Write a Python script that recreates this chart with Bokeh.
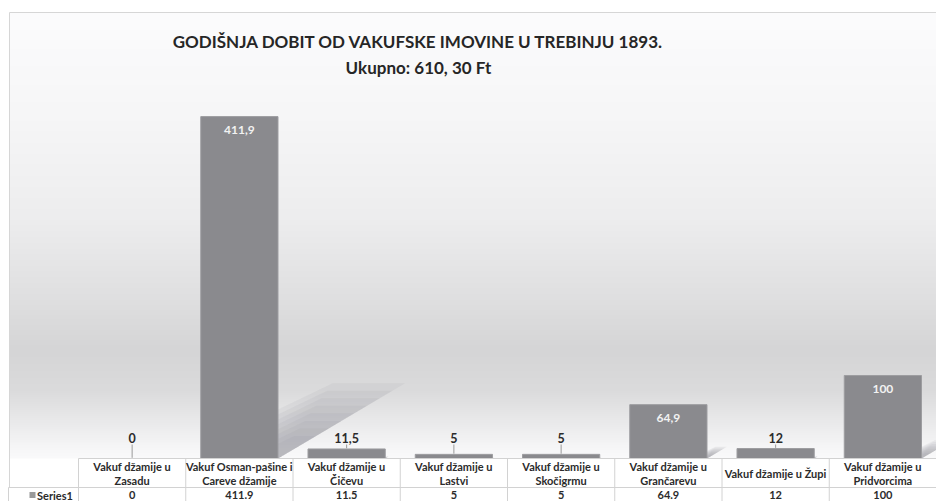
import numpy as np
from bokeh.plotting import figure
from bokeh.models import Range1d
from bokeh.core.properties import value
from bokeh.embed import file_html
from bokeh.resources import INLINE

# ---------------- data ----------------
title_text = "GODIŠNJA DOBIT OD VAKUFSKE IMOVINE U TREBINJU 1893."
subtitle_text = "Ukupno: 610, 30 Ft"
series_name = "Series1"
categories = [
    "Vakuf džamije u\nZasadu",
    "Vakuf Osman-pašine i\nCareve džamije",
    "Vakuf džamije u\nČičevu",
    "Vakuf džamije u\nLastvi",
    "Vakuf džamije u\nSkočigrmu",
    "Vakuf džamije u\nGrančarevu",
    "Vakuf džamije u Župi",
    "Vakuf džamije u\nPridvorcima",
]
values = [0, 411.9, 11.5, 5, 5, 64.9, 12, 100]

# ---------------- layout helpers (reference pixel -> data units) ----------------
PX_PER_UNIT = 0.830
BASE = 458.0
COL0 = 78.0
COLW = 107.25
W_REF, H_REF = 936.0, 501.0


def X(px):
    return (px - COL0) / COLW - 0.5


def Y(py):
    return (BASE - py) / PX_PER_UNIT


FONT = value("Lato")
TXT = "#2b2b2b"
GRID = "#d2d2d2"

p = figure(width=936, height=501,
           x_range=Range1d(X(0), X(W_REF)), y_range=Range1d(Y(H_REF), Y(0)),
           output_backend="svg", toolbar_location=None,
           x_axis_location=None, y_axis_location=None,
           min_border=0, outline_line_color=None,
           background_fill_color="white", border_fill_color="white")
p.grid.visible = False

# ---------------- background gradient of the chart area ----------------
rows = 460
ref_y = np.linspace(BASE, 12, rows)  # bottom row first
stops_y = [12, 120, 220, 300, 350, 390, 420, 445, 458]
stops_v = [252, 246, 237, 223, 213, 219, 233, 245, 250]
g = np.interp(ref_y, stops_y, stops_v).astype(np.uint8)
img = np.zeros((rows, 2), dtype=np.uint32)
view = img.view(dtype=np.uint8).reshape((rows, 2, 4))
view[:, :, 0] = g[:, None]
view[:, :, 1] = g[:, None]
view[:, :, 2] = (np.clip(g.astype(int) + 1, 0, 255)).astype(np.uint8)[:, None]
view[:, :, 3] = 255
p.image_rgba(image=[img], x=X(9), y=Y(BASE), dw=X(W_REF) - X(9), dh=Y(12) - Y(BASE))

# chart border
p.segment(x0=[X(9), X(9)], y0=[Y(12), Y(12)], x1=[X(W_REF), X(9)], y1=[Y(12), Y(487)],
          line_color="#d6d6d6", line_width=1)

# ---------------- shadows (layered to fade towards the upper right) ----------------
idx = list(range(len(values)))
bw = 0.72
for s in np.linspace(1.0, 0.3, 8):
    xs, ys = [], []
    for i, v in zip(idx, values):
        if v <= 0:
            continue
        h = 0.22 * v * s
        hpx = h * PX_PER_UNIT
        xr = i + bw / 2
        tl = 0.727 * hpx / COLW
        tr = 1.69 * hpx / COLW
        xs.append([xr, xr, xr + tl, xr + tr])
        ys.append([0, 0.65 * h, h, h])
    p.patches(xs=xs, ys=ys, fill_color="#969698", fill_alpha=0.11, line_color=None)

# ---------------- bars ----------------
p.vbar(x=idx, top=values, bottom=0, width=bw,
       fill_color="#8a8a8e", line_color="#9d9da0", line_width=1)

# ---------------- data labels ----------------
labels = [f"{v:g}".replace(".", ",") for v in values]
inside = [v >= 50 for v in values]
in_x = [i for i, f in zip(idx, inside) if f]
in_y = [v - 16.5 for v, f in zip(values, inside) if f]
in_t = [t for t, f in zip(labels, inside) if f]
p.text(x=in_x, y=in_y, text=in_t, text_color="#f2f2f2", text_font=FONT,
       text_font_style="bold", text_font_size="12px",
       text_align="center", text_baseline="middle")

out_x = [i for i, f in zip(idx, inside) if not f]
out_v = [v for v, f in zip(values, inside) if not f]
out_t = [t for t, f in zip(labels, inside) if not f]
lab_y = Y(437)
p.text(x=out_x, y=[lab_y] * len(out_x), text=out_t, text_color=TXT, text_font=FONT,
       text_font_style="bold", text_font_size="12.5px",
       text_align="center", text_baseline="middle")
p.segment(x0=out_x, y0=[Y(444)] * len(out_x), x1=out_x, y1=[v + 0.8 for v in out_v],
          line_color="#9a9a9a", line_width=1)

# ---------------- title ----------------
p.text(x=[X(418)], y=[Y(41)], text=[title_text], text_color="#262626", text_font=FONT,
       text_font_style="bold", text_font_size="17px",
       text_align="center", text_baseline="middle")
p.text(x=[X(418)], y=[Y(67)], text=[subtitle_text], text_color="#262626", text_font=FONT,
       text_font_style="bold", text_font_size="17px",
       text_align="center", text_baseline="middle")

# ---------------- data table ----------------
n = len(categories)
bounds = [i - 0.5 for i in range(n + 1)]
p.segment(x0=[X(COL0), X(8)], y0=[Y(BASE), Y(487)], x1=[X(W_REF), X(W_REF)], y1=[Y(BASE), Y(487)],
          line_color=GRID, line_width=1)
p.segment(x0=bounds, y0=[Y(BASE)] * len(bounds), x1=bounds, y1=[Y(H_REF)] * len(bounds),
          line_color=GRID, line_width=1)
p.segment(x0=[X(8)], y0=[Y(487)], x1=[X(8)], y1=[Y(H_REF)], line_color=GRID, line_width=1)

p.text(x=idx, y=[Y(473)] * n, text=categories, text_color=TXT, text_font=FONT,
       text_font_style="bold", text_font_size="11px", text_line_height=1.1,
       text_align="center", text_baseline="middle")
p.text(x=idx, y=[Y(494.5)] * n, text=[f"{v:g}" for v in values], text_color=TXT,
       text_font=FONT, text_font_style="bold", text_font_size="11px",
       text_align="center", text_baseline="middle")
p.scatter(x=[X(32)], y=[Y(494.5)], marker="square", size=6,
          fill_color="#9a9a9a", line_color=None)
p.text(x=[X(36.5)], y=[Y(494.5)], text=[series_name], text_color=TXT, text_font=FONT,
       text_font_style="bold", text_font_size="11px",
       text_align="left", text_baseline="middle")

open("out.html", "w").write(file_html(p, INLINE))
